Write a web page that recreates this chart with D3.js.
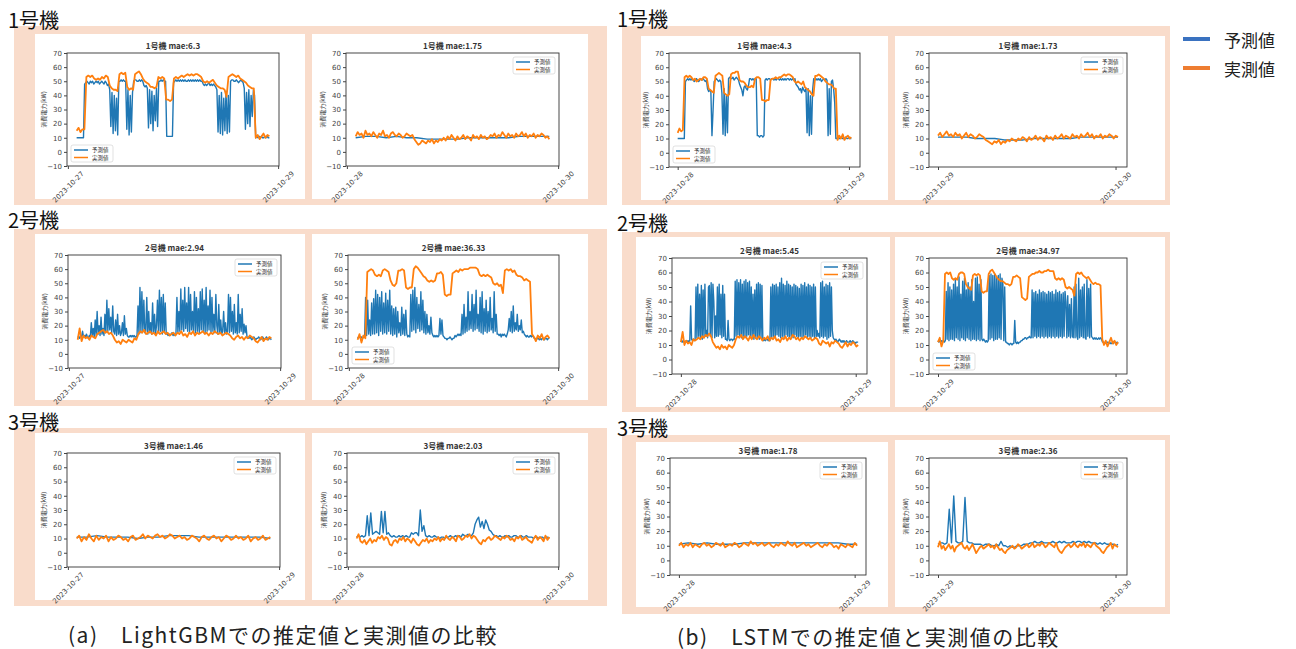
<!DOCTYPE html>
<html><head><meta charset="utf-8">
<script src="https://cdn.jsdelivr.net/npm/d3@7"></script>
<style>body{margin:0;background:#fff;} svg{display:block;}</style>
</head><body><svg id="c" width="1296" height="649"></svg>
<script>
// ---------------- DATA ----------------
const yTicks = [-10,0,10,20,30,40,50,60,70];
const seriesNames = ["予測値","実測値"];
const rowNames = ["1号機","2号機","3号機"];
const captions = ["(a)　LightGBMでの推定値と実測値の比較","(b)　LSTMでの推定値と実測値の比較"];
const titles = ["1号機 mae:6.3","1号機 mae:1.75","2号機 mae:2.94","2号機 mae:36.33","3号機 mae:1.46","3号機 mae:2.03",
                "1号機 mae:4.3","1号機 mae:1.73","2号機 mae:5.45","2号機 mae:34.97","3号機 mae:1.78","3号機 mae:2.36"];
const spanLgbmL = ["2023-10-27 02:00","2023-10-28 22:00"], ticksLgbmL = ["2023-10-27","2023-10-29"];
const spanLgbmR = ["2023-10-28 02:00","2023-10-29 22:00"], ticksLgbmR = ["2023-10-28","2023-10-30"];
const spanLstmL = ["2023-10-28 00:00","2023-10-29 00:20"], ticksLstmL = ["2023-10-28","2023-10-29"];
const spanLstmR = ["2023-10-29 00:00","2023-10-30 00:20"], ticksLstmR = ["2023-10-29","2023-10-30"];

// LightGBM 1号機 (left)
const lgbm1L_pred = [10,10,10,10,10,10,10, 48,49,50,49,48,50,49,50,48,49,50,49,50,48,49,50,49,48,50,49,47,48, 44,18,42,13,40,15,38,12, 50,50,51,50,51,50,50, 16,44,12,40,14,42, 50,51,51,50,50,51,50,51,50, 47,46,47,45, 17,44,20,43,15,40,22,45,18, 50,50,51,50,51,50,50, 11,11,11,11,11,11, 49,50,51,50,51,50,51,50,51,50,51,50,50,51,50,51,50,51,50,51,50,51,50,51,50,50, 48,47,48,47,48,49,47,48,47,48,47,46, 44,14,40,13,42,12,38,15,43,13,40,14, 50,51,51,50,50,51,50,49,50,51,50,49, 45,16,42,20,44,18,40,25,44,40, 10,11,10,11,10,11,10,10,11,10,11,10,10];
const lgbm1L_act = [15,17,14,16,16, 53,54,53,54,52,51,52,51,53,52,54,53, 47,45,44,44,43, 55,56,55,56, 46,44,45,44, 55,56,57,55,52, 50,49,48, 46,46,45,46, 53,52,53,52, 37,37,36,37, 52,53,52,53,54,53,54,55,54,55,54,55,55,54,53, 50,49,50,49,50,51,49, 47,46,45,45,44,39, 53,54,55,54,53,54,52,51, 50,49,47,46,45,45, 10,12,9,11,13,10,12,11];
// LightGBM 1号機 (right)
const lgbm1R_pred = [10,11,11,10,11,10,10,9,9,9,9,10,10,10,10,10,11,11,11,11];
const lgbm1R_act = [11,14,12,13,10,15,12,13,11,14,12,10,13,12,15,11,12,10,13,14,12,11,13,12,10,11,13,12,11,12, 9,7,5,6,8,7,6,8,7,9,6,8,7,9,8, 10,8,11,9,12,10,8,11,9,10,12,9,11,10,8,12,10,11,9,12,10,11,9,10,12,11,13,10,12,11,14,12,10,13,11,12,10,13,11,12,14,11,13,10,12,11,13,10,12,11,13,12,10,11,9];
// LightGBM 2号機 (left)
const lgbm2L_pred = [12,12,11,13,12,16,12,13,12,14,12,11,13,12, 22,13,18,12,24,13,30,14,20,13,26,14,18,13, 28,15,38,16,32,17,26,15,34,16, 14,24,13,28,14,20,13,15,22,13,27,14,18,13, 12,12,13,12,13,12,13,12,12,13, 34,14,47,15,44,16,38,15, 16,40,14,30,15,22,14,36,15,28,14,20, 38,15,45,16,40,14,42,15,36,14, 14,13,14,13,14,15,13,14,13,14, 40,15,30,16,46,17,38,16,47,18,36,16,47,15,42,17,30,16,44,15,40,16,32,15,44,17,46,16,38,15,47,16,34,17,45,15,40,16,28,15,42, 20,14,35,15,24,14,16,30,15,22,14,16, 42,15,40,16,30,14,35,15,22,14,42,15,28,16,32,14,21,15,20, 12,11,11,12,11,10,11,12,11,10,11,11,12,11,10,11,12,11,10,11,12,11,10,11,11,10];
const lgbm2L_act = [10,18,9,13,11,12,10,13,12,11, 14,15,16,17,15,16,14,15,13, 10,8,9,7,10,9,8,10,9,8,11,10, 14,16,15,17,14,15,16,14,15,13,16,14,15,16,14,15,13,14,15, 13,15,14,16,13,14,12,15,14,16,13,15,14,15,16,14,15,13,15,14,16,15,14,15,13,14,15,14,13, 11,10,12,13,11,12,10,12,11,13,12,11,9,8,10,12,9,11,10,12,11];
// LightGBM 2号機 (right)
const lgbm2R_pred = [11,12,12,11,12,11,12,12, 40,13,38,14,24,13,36,14, 39,14,45,15,42,13,40,16,44,14,36,15,43,14,38,16,45,14,34, 13,32,14,33,12,30,15,22,13,33,14,28,13,31,14, 12,13,12, 42,16,45,17,47,15,40,18,35,16,44,17,38,15,30, 14,28,15,20,14,26,15, 13,12,13,12,13,12,13, 25,14,24,13,12, 11,11,10,11,11,12,11,10,11,11, 13,12,13,14,13,14,13, 28,14,35,15,26,16,44,17,30,18,42,16,35,17,45,18,28,16,40,15,44,14,32,16,38,15,30,16,40,17,25,15,44,16,28,14, 14,13,14,12,14,13,14,13,12,14, 17,25,16,30,15,34,16,22,17,28,16,20,17,24,15,16, 14,13,12,13,12,12,13,12,13,12, 11,11,10,11,11,10,11,10,11,11,10,11,11,10,11,11];
const lgbm2R_act = [10,14,8,13,11, 58,59,60,59, 56,55,56,55, 59,60,59,58, 52,49,48,50, 59,59,60,59, 47,46,47,47, 60,62,61,59, 57,55,54,52, 51,52,51,52, 57,57,58,56, 42,41,42,42, 57,58,59,58, 60,59,60,60, 60,61,61,61,61,60, 56,55,56,55,56,55,54, 50,49,50,48,49, 43, 59,60,59,60,58,59, 56,55,55,54, 52,53,52,51, 14,12,9,13,11,14,10,12,13,11];
// LightGBM 3号機 (left)
const lgbm3L_pred = [11,11,12,11,11,11,10,11,11,12,12,12,11,11,11,11,11,11,11,10];
const lgbm3L_act = [10,12,8,11,9,13,10,8,12,9,11,10,12,8,11,9,10,12,11,9,10,8,11,12,9,10,11,13,10,12,11,10,12,13,11,12,10,11,13,12,10,11,12,10,11,9,10,12,11,10,8,11,12,10,9,11,12,10,11,8,10,12,11,9,10,12,10,11,9,10,12,8,10,11,9,10,12,9,10,11];
// LightGBM 3号機 (right)
const lgbm3R_pred = [11,12,11,12,11,12, 26,12,28,13, 14,15,14,13, 29,14,29,13,14, 12,11,12,11,11,12,11,12,11,12,11,11, 14,13,14,14,12, 30,15,19,12, 11,12,11,11,12,11,11,10,11,11,10,11,11,12,11,11,12,11,12,11,13,12,12,13,12,12,14, 20,23,25,18,22,17,23,20,16,15,13, 12,12,11,12,11,11,12,11,12,11,11,12,12,11,11,12,11,11,12,11,11,11,10,11,11,10,11,11,10,11,11,10];
const lgbm3R_act = [10,13,8,7,9,6,8,10,7,9,8,11,10,12,9,11,10,6,5,8,9,7,10,9,11,8,10,9,7,10,8,6,5,7,9,8,10,7,9,8,10,9,11,8,10,9,12,10,9,11,10,8,12,11,9,10,12,11,13,10,12,11,9,7,6,9,8,10,11,9,10,12,11,10,9,11,10,12,11,9,10,8,11,10,12,9,10,11,9,8,7,10,12,9,11,10,8,12,9,11];

// LSTM 1号機 (left)
const lstm1L_pred = [10,10,10,10,10,10,10, 50,51,52,51,52,51,52,51,50,51,52,51,50,51,52,51,52,51,50,51, 45,43,44,43, 12,30, 50,51,52,51,50,51,50, 42,13,45,12,40,14, 52,53,52,52,53,51,52,53,52,51, 48,46,44,40,46,47,45,44,47, 52,52,51,52,51,52,52, 12,12,11,12,12,11,12, 51,52,51,52,52,51,52,52,51,52,51,52,52,51,52,51,52,51,52,51,52,52,51,52,51,52,51,52, 48,47,46,44,45,42,46,44,43,45, 14,45,12,40,13,44, 52,51,52,51,52,51,52,50,51,52,51,52,51, 12,45,13, 50,51,45,35, 10,10,11,10,10,11,10,10,10,11,10,10,11,10,10];
const lstm1L_act = [14,17,15,16, 53,54,53,54,53, 51,52,50,51,52,51, 53,53,52, 45,44,43,42, 54,55,56,55,54, 42,41,40,41, 55,56,56,57,57, 51,50,50,49, 47,46,46,47,46, 52,53,53,52, 37,37,36,37,37, 51,52,52,53,52,53,53, 54,55,54,55,55,54,53, 50,49,50,49,48,50, 46,45,44,43,41, 40,54, 54,55,54,53,52, 50,49,48,48,47, 45,45, 9,12,10,13,9,11,12,10,11];
// LSTM 1号機 (right)
const lstm1R_pred = [11,11,11,11,10,10,10,9,9,9,10,10,10,10,10,11,11,11,11,11];
const lstm1R_act = [12,14,11,13,15,12,13,11,14,12,13,10,12,14,11,13,12,10,11,13,12,11,9,8,7,6,8,7,9,6,8,7,9,8,10,9,8,10,9,11,10,8,11,9,10,12,9,11,10,8,12,10,11,9,12,10,11,13,10,12,11,10,13,11,12,10,13,11,12,14,11,13,10,12,11,13,10,12,11,13,12,10,12,11];
// LSTM 2号機 (left)
const lstm2L_pred = [12,13,12,13,12,12,13,12,13,12,13, 37,14,13,14,13,14, 50,15,52,16,45,15,51,14,48,15,52,16,20,15,50, 51,16,53,15,52, 40,15,30,16, 50,16,52,17,45,15,51,16,45, 14,14,13,27,14,13,14,14,13,14,14, 54,16,55,17,53,16,55,15,52,16,54,15,55,16,53,17,54,16, 50,15,45,14,48,15, 52,15,53,14,52,15,51, 14,13,14,13,14,14,13,14,13, 50,15,52,16,51,15,52,17,50,16,53,15,56,16,52,15,51,17,54,16,52,15,51,16,50,15,52,17,51,16,50,15,49,16,52,15,51,16,53,17,50,15,52,16,51,15,50,16,52,15,50,16, 20,16,18,15, 53,16,54,15,50,16,52,14,51,15,53,16,50, 20,15, 14,13,14,13,12,13,14,13,12,13,12,13,12,12,13,12,12,12,13,12,12,13,12,12,11,12,12,12];
const lstm2L_act = [12,19,10,13,11,12,10,14, 13,14,15,14,16,15,17,16,18,16, 12,10,8,9,7,10,8,9,7,10,9,8,10, 14,16,15,17,14,16,15,13,16,14,17,15,14,16,15,13,15,14,16, 13,15,14,16,13,14,12,15,14,16,13,15,14,17,16,14,15,13,15,14,16,15,14,15,13,14,15,14, 11,10,13,12,11,12,9,12,11,13,12,11,9,8,10,12,9,11,10,12,11,9,10];
// LSTM 2号機 (right)
const lstm2R_pred = [13,12,13,12,13,12,13,12,13, 47,14,53,13,50,14,48, 14,52,13,55,15,50,14,57,13,45,15,54,14,56,13,48,15,53,14,50,13,55,14,40, 14,56,13,57,14,52,13,55,14, 13,14,13,12,13,12,13, 58,14,59,15,58,13,59,14,57,14,58,15,59,14,56, 52,13,50,12, 12,11,11,10,11,11,10,11,11, 27,12,11,12, 11,12,12,13,13,14,14,15,15,14,15,15,16,15,15, 48,15,46,16,47,15,45,16,48,15,46,16,47,15,46,16,45,15,47,16,46,15,47,16,45,15,48,16,46,15,47,16,45,15,46,16,47, 40,15,44,16,38,15,42,16,15, 50,15,52,16,14,56,15,48,16,50,15,52,15,14,55,16,49,15,52,16, 15,14,15,14,15,14,14,15,14,15,14, 12,12,11,12,11,12,12,11,12,11,11,12,11,12,12,11,12,11];
const lstm2R_act = [12,15,9,13, 59,60,59,60, 56,55,56,55, 59,60,60,59, 52,50,49,48, 58,59,58,59,58, 47,46,47,47, 59,61,62,60,58, 56,55,54,54,53, 52,52,51,52, 57,57,58,57,56, 43,42,41,42, 57,58,59,59, 60,60,61,60,60, 61,61,62,61,61,61, 56,55,56,55,56,55, 50,49,50,49,48, 44, 59,60,59,60,58, 57,56,57,55, 53,52,53,52,52,51, 14,10,13,9,12,15,11,13,10,12];
// LSTM 3号機 (left)
const lstm3L_pred = [11,12,11,12,11,11,11,12,12,12,12,12,12,12,12,12,12,12,11,11];
const lstm3L_act = [10,12,9,11,10,12,9,11,10,9,11,12,10,11,9,10,12,11,10,12,9,10,11,10,12,11,9,10,12,11,10,13,11,12,10,11,12,10,11,12,10,9,11,10,12,11,10,13,11,10,12,9,10,11,12,10,11,9,10,11,12,10,9,11,10,12,11,9,10,8,11,10,9,11,10,9,12,10];
// LSTM 3号機 (right)
const lstm3R_pred = [11,12,12,11,12, 35,12, 44,13, 12,12,13, 43, 13,12,12,11,11,11,11,10,11,11,11,10,10,11,10, 13, 10,10,9,10,9,9,10,10,10,11,11, 11,12,12,13,12,12,13,12,12,12, 12,13,12,12,13,12,13,12,12,12,13,12,13,13,12,13,12,13,12, 12,12,11,12,11,12,11,11,11,11,10,11];
const lstm3R_act = [9,13,8,10,7,9,11,8,10,6,9,10,11,12,9,8,10,7,9,11,8,5,7,9,10,8,9,10,11,9,10,8,11,9,7,8,6,5,7,8,9,10,8,9,11,10,8,9,10,11,9,10,12,9,10,11,10,12,11,9,10,12,11,10,9,12,8,6,5,7,9,10,11,9,10,12,10,9,11,10,12,9,11,10,9,11,12,10,9,8,6,5,7,9,10,12,8,11,10,9];

// ---------------- LAYOUT ----------------
const W = 1296, H = 649;
const BLUE = "#1f77b4", ORANGE = "#ff7f0e";
const BAND = "#f9dccb";
const bands = [[14,26,607,205],[14,229,607,406],[14,428,607,606],[622,26,1170,205],[622,232,1170,412],[622,435,1170,614]];
const rowLabelPos = [[8,28],[8,228],[8,430],[617,27],[617,231],[617,436]];
const panels = [
  {title:titles[0], pred:lgbm1L_pred, act:lgbm1L_act, span:spanLgbmL, ticks:ticksLgbmL, box:[35,34,305,199], axes:[67,279,53,166], leg:"ll"},
  {title:titles[1], pred:lgbm1R_pred, act:lgbm1R_act, span:spanLgbmR, ticks:ticksLgbmR, box:[312,34,588,199], axes:[346,559,53,166], leg:"ur"},
  {title:titles[2], pred:lgbm2L_pred, act:lgbm2L_act, span:spanLgbmL, ticks:ticksLgbmL, box:[35,234,305,400], axes:[68,281,255,368], leg:"ur"},
  {title:titles[3], pred:lgbm2R_pred, act:lgbm2R_act, span:spanLgbmR, ticks:ticksLgbmR, box:[312,234,588,400], axes:[348,559,255,368], leg:"ll"},
  {title:titles[4], pred:lgbm3L_pred, act:lgbm3L_act, span:spanLgbmL, ticks:ticksLgbmL, box:[35,433,305,600], axes:[67,280,453,567], leg:"ur"},
  {title:titles[5], pred:lgbm3R_pred, act:lgbm3R_act, span:spanLgbmR, ticks:ticksLgbmR, box:[312,433,588,600], axes:[347,559,453,567], leg:"ur"},
  {title:titles[6], pred:lstm1L_pred, act:lstm1L_act, span:spanLstmL, ticks:ticksLstmL, box:[641,36,888,200], axes:[669,860,53,167], leg:"ll"},
  {title:titles[7], pred:lstm1R_pred, act:lstm1R_act, span:spanLstmR, ticks:ticksLstmR, box:[895,36,1165,200], axes:[929,1127,53,167], leg:"ur"},
  {title:titles[8], pred:lstm2L_pred, act:lstm2L_act, span:spanLstmL, ticks:ticksLstmL, box:[636,237,890,407], axes:[672,867,258,374], leg:"ur"},
  {title:titles[9], pred:lstm2R_pred, act:lstm2R_act, span:spanLstmR, ticks:ticksLstmR, box:[895,237,1165,407], axes:[929,1127,258,374], leg:"ll"},
  {title:titles[10], pred:lstm3L_pred, act:lstm3L_act, span:spanLstmL, ticks:ticksLstmL, box:[636,442,888,607], axes:[670,866,458,575], leg:"ur"},
  {title:titles[11], pred:lstm3R_pred, act:lstm3R_act, span:spanLstmR, ticks:ticksLstmR, box:[895,440,1165,607], axes:[929,1127,458,575], leg:"ur"}
];

const svg = d3.select("#c");
const parse = d3.timeParse("%Y-%m-%d %H:%M");
const JP = "'Noto Sans CJK JP', 'Noto Sans', sans-serif";
const NUM = "'DejaVu Sans', sans-serif";

svg.append("rect").attr("width",W).attr("height",H).attr("fill","#fff");
bands.forEach(b => svg.append("rect").attr("x",b[0]).attr("y",b[1]).attr("width",b[2]-b[0]).attr("height",b[3]-b[1]).attr("fill",BAND));
rowLabelPos.forEach((p,i) => svg.append("text").attr("x",p[0]).attr("y",p[1]).text(rowNames[i%3])
  .attr("font-family",JP).attr("font-size",20).attr("fill","#111"));

panels.forEach(drawPanel);

function drawPanel(p){
  const g = svg.append("g");
  g.append("rect").attr("x",p.box[0]).attr("y",p.box[1]).attr("width",p.box[2]-p.box[0]).attr("height",p.box[3]-p.box[1]).attr("fill","#fff");
  const [l,r,t,b] = p.axes;
  const t0 = parse(p.span[0]), t1 = parse(p.span[1]);
  const pad = (t1 - t0) * 0.05;
  const x = d3.scaleTime().domain([new Date(+t0 - pad), new Date(+t1 + pad)]).range([l, r]);
  const y = d3.scaleLinear().domain([-10, 70]).range([b, t]);
  const mk = arr => d3.line()
    .x((d,i) => x(new Date(+t0 + (t1 - t0) * i / (arr.length - 1))))
    .y(d => y(d))(arr);
  g.append("path").attr("d", mk(p.pred)).attr("fill","none").attr("stroke",BLUE).attr("stroke-width",1.4).attr("stroke-linejoin","round");
  g.append("path").attr("d", mk(p.act)).attr("fill","none").attr("stroke",ORANGE).attr("stroke-width",1.8).attr("stroke-linejoin","round");
  g.append("rect").attr("x",l).attr("y",t).attr("width",r-l).attr("height",b-t).attr("fill","none").attr("stroke","#333").attr("stroke-width",0.9);

  const ya = g.append("g").attr("transform",`translate(${l},0)`)
    .call(d3.axisLeft(y).tickValues(yTicks).tickSize(3).tickPadding(2));
  ya.select(".domain").remove();
  ya.selectAll("line").attr("stroke","#444");
  ya.selectAll("text").attr("font-size",7).attr("fill","#444").attr("font-family",NUM);

  const xa = g.append("g").attr("transform",`translate(0,${b})`)
    .call(d3.axisBottom(x).tickValues(p.ticks.map(d => parse(d + " 00:00"))).tickFormat(d3.timeFormat("%Y-%m-%d")).tickSize(3));
  xa.select(".domain").remove();
  xa.selectAll("line").attr("stroke","#444");
  xa.selectAll("text").attr("y",0).attr("dy","0.32em").attr("transform","translate(0,21) rotate(-45)")
    .attr("text-anchor","middle").attr("font-size",7).attr("fill","#444").attr("font-family",NUM);

  g.append("text").attr("x",(l+r)/2).attr("y",t-4).attr("text-anchor","middle").text(p.title)
    .attr("font-family",JP).attr("font-size",8).attr("font-weight","bold").attr("fill","#333");
  g.append("text").attr("transform",`translate(${l-24},${(t+b)/2}) rotate(-90)`).attr("text-anchor","middle")
    .attr("dominant-baseline","central").text("消費電力(kW)").attr("font-family",JP).attr("font-size",6).attr("fill","#333");

  const lw = 42, lh = 17;
  const bx = p.leg === "ll" ? l + 4 : r - 4 - lw;
  const by = p.leg === "ll" ? b - 4 - lh : t + 4;
  const lg = g.append("g");
  lg.append("rect").attr("x",bx).attr("y",by).attr("width",lw).attr("height",lh).attr("rx",2)
    .attr("fill","#fff").attr("fill-opacity",0.85).attr("stroke","#ccc").attr("stroke-width",0.6);
  [BLUE, ORANGE].forEach((c,i) => {
    const yy = by + 5 + i*7.5;
    lg.append("line").attr("x1",bx+3).attr("x2",bx+17).attr("y1",yy).attr("y2",yy).attr("stroke",c).attr("stroke-width",1.5);
    lg.append("text").attr("x",bx+21).attr("y",yy).attr("dominant-baseline","central").text(seriesNames[i])
      .attr("font-family",JP).attr("font-size",5.5).attr("fill","#333");
  });
}

// top-right legend
const legColors = ["#3a72c0","#ee7d31"];
[39,68].forEach((yy,i) => {
  svg.append("line").attr("x1",1183).attr("x2",1210).attr("y1",yy).attr("y2",yy).attr("stroke",legColors[i]).attr("stroke-width",4);
  svg.append("text").attr("x",1224).attr("y",yy).attr("dominant-baseline","central").text(seriesNames[i])
    .attr("font-family",JP).attr("font-size",17).attr("fill","#222");
});

// captions
[[68,634],[677,636]].forEach((c,i) => {
  svg.append("text").attr("x",c[0]).attr("y",c[1]).attr("dominant-baseline","central").text(captions[i])
    .attr("letter-spacing",1.5)
    .attr("font-family",JP).attr("font-size",21).attr("fill","#222");
});
</script>
</body></html>
